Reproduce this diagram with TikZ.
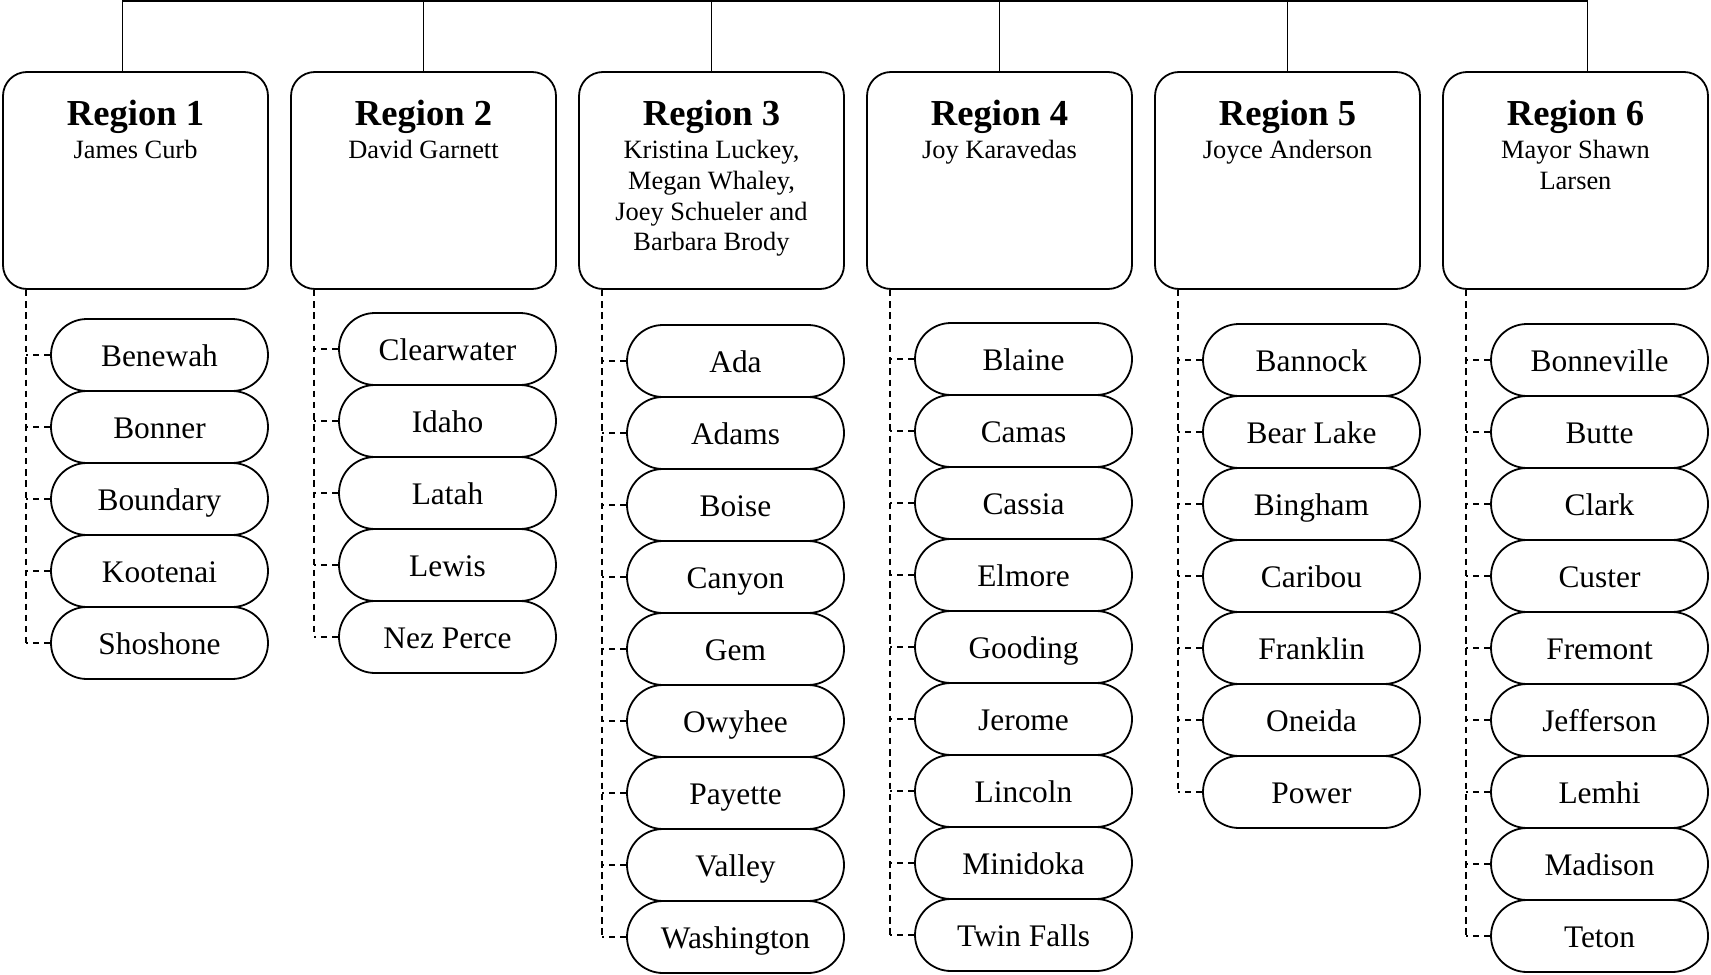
\documentclass[tikz,border=0pt]{standalone}
\usepackage{fontspec}
\setmainfont{Liberation Serif}
\usetikzlibrary{shapes.misc}

\tikzset{
  regionbox/.style={draw, line width=0.9pt, rounded corners=12pt, fill=white,
    minimum width=132.5pt, minimum height=108.5pt},
  regiontitle/.style={anchor=base, inner sep=0pt, font=\fontsize{18.3}{20}\selectfont\bfseries},
  regionlead/.style={anchor=north, align=center, inner sep=0pt, font=\fontsize{13.2}{15.3}\selectfont},
  countypill/.style={draw, line width=0.9pt, rounded rectangle, fill=white,
    minimum width=108.5pt, minimum height=36pt, inner sep=0pt,
    text height=11.3pt, text depth=0pt, font=\fontsize{15.7}{18}\selectfont},
  feeder/.style={line width=0.85pt, dash pattern=on 3.2pt off 2.4pt},
  trunk/.style={line width=0.9pt}
}

\begin{document}
\begin{tikzpicture}[x=0.5pt, y=-0.5pt]
\useasboundingbox (0,0) rectangle (1711,974);
\coordinate (bus) at (855,1);

% region boxes with title and lead names
\foreach \rg/\xl in {1/3, 2/291, 3/579, 4/867, 5/1155, 6/1443} {
  \node[regionbox] (r\rg) at (\xl+132.5, 180.5) {};
  \node[regiontitle] (r\rg-title) at ([yshift=-27pt]r\rg.north) {Region \rg};
}
\node[regionlead] (r1-lead) at ([yshift=-34.5pt]r1.north) {James Curb};
\node[regionlead] (r2-lead) at ([yshift=-34.5pt]r2.north) {David Garnett};
\node[regionlead] (r3-lead) at ([yshift=-34.5pt]r3.north)
  {Kristina Luckey,\\Megan Whaley,\\Joey Schueler and\\Barbara Brody};
\node[regionlead] (r4-lead) at ([yshift=-34.5pt]r4.north) {Joy Karavedas};
\node[regionlead] (r5-lead) at ([yshift=-34.5pt]r5.north) {Joyce Anderson};
\node[regionlead] (r6-lead) at ([yshift=-34.5pt]r6.north) {Mayor Shawn\\Larsen};

% top trunk
\coordinate (t1) at ([xshift=-6.5pt]r1.north);
\coordinate (t6) at ([xshift=6pt]r6.north);
\draw[trunk] (t1) |- (t6 |- bus) -- (t6);
\foreach \rg in {2,...,5}
  \draw[trunk] (r\rg.north) -- (r\rg.north |- bus);

% counties under each region
\foreach \rg/\xl/\ytop/\last/\names in {
  1/3/319/5/{Benewah,Bonner,Boundary,Kootenai,Shoshone},
  2/291/313/5/{Clearwater,Idaho,Latah,Lewis,Nez Perce},
  3/579/325/9/{Ada,Adams,Boise,Canyon,Gem,Owyhee,Payette,Valley,Washington},
  4/867/323/9/{Blaine,Camas,Cassia,Elmore,Gooding,Jerome,Lincoln,Minidoka,Twin Falls},
  5/1155/324/7/{Bannock,Bear Lake,Bingham,Caribou,Franklin,Oneida,Power},
  6/1443/324/9/{Bonneville,Butte,Clark,Custer,Fremont,Jefferson,Lemhi,Madison,Teton}} {
  \foreach \cty [count=\k] in \names {
    \node[countypill] (r\rg-\k) at (\xl+156.5, \ytop+36+72*\k-72) {\cty};
    \draw[feeder] (r\rg-\k.west) -- ++(-12pt,0);
  }
  \coordinate (s\rg) at ([xshift=12pt]r\rg.south west);
  \draw[feeder] (s\rg) -- (s\rg |- r\rg-\last.west);
}
\end{tikzpicture}
\end{document}
